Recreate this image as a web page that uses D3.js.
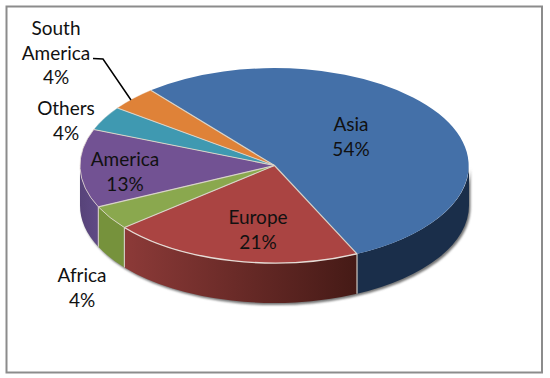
<!DOCTYPE html>
<html>
<head>
<meta charset="utf-8">
<script src="https://cdnjs.cloudflare.com/ajax/libs/d3/7.8.5/d3.min.js"></script>
<style>
  html, body { margin: 0; padding: 0; background: #fff; }
  text { font-family: Lato, "Open Sans", sans-serif; font-size: 19px; fill: #111; text-anchor: middle; }
</style>
</head>
<body>
<svg id="chart" width="550" height="378"></svg>
<script>
const regions = ["Asia", "Europe", "Africa", "America", "Others", "South America"];
const shares = [54, 21, 4, 13, 4, 4];
const topColors = ["#4470a8", "#aa4442", "#8aa84e", "#725293", "#3f99b1", "#df8238"];
const sideLeft = ["#1a2e4a", "#8c3a38", "#76923c", "#574379", "#2f7a8e", "#b0652a"];
const sideRight = ["#1a2e4a", "#451a16", "#76923c", "#5f4a85", "#2f7a8e", "#b0652a"];

const width = 550, height = 378;
const cx = 274.5, cy = 165.5, rx = 194.5, ry = 97.5, depth = 40;
const startDeg = -39.5;

// label text lines and where they sit
const labelLines = [
  {i: 0, x: 351, y: 131, lines: ["Asia", "54%"]},
  {i: 1, x: 258, y: 224, lines: ["Europe", "21%"]},
  {i: 2, x: 82, y: 282, lines: ["Africa", "4%"]},
  {i: 3, x: 125, y: 166, lines: ["America", "13%"]},
  {i: 4, x: 66, y: 115, lines: ["Others", "4%"]},
  {i: 5, x: 56, y: 35, lines: ["South", "America", "4%"]}
];

const svg = d3.select("#chart");
const defs = svg.append("defs");

const blur = defs.append("filter").attr("id", "blur")
  .attr("x", "-5%").attr("y", "-5%").attr("width", "110%").attr("height", "110%");
blur.append("feGaussianBlur").attr("stdDeviation", 1.3);

// frame
svg.append("rect")
  .attr("x", 6.5).attr("y", 6.5)
  .attr("width", 535.5).attr("height", 366)
  .attr("fill", "#fff")
  .attr("stroke", "#8c8c8c")
  .attr("stroke-width", 2);

const pie = d3.pie()
  .value(d => d)
  .sort(null)
  .startAngle(startDeg * Math.PI / 180)
  .endAngle((startDeg + 360) * Math.PI / 180);
const slices = pie(shares);

const px = a => cx + rx * Math.sin(a);
const py = a => cy - ry * Math.cos(a);

// rim of the pie between two angles, as ellipse arc
const rimPath = (a0, a1, dy) =>
  `M${px(a0)},${py(a0) + dy}A${rx},${ry} 0 ${a1 - a0 > Math.PI ? 1 : 0} 1 ${px(a1)},${py(a1) + dy}`;

const sidePath = (a0, a1) =>
  rimPath(a0, a1, 0) +
  `L${px(a1)},${py(a1) + depth}` +
  `A${rx},${ry} 0 ${a1 - a0 > Math.PI ? 1 : 0} 0 ${px(a0)},${py(a0) + depth}Z`;

const sideMin = Math.PI / 2, sideMax = Math.PI * 3 / 2;

// soft shadow under the side wall
svg.append("path")
  .attr("d", sidePath(sideMin, sideMax))
  .attr("transform", "translate(1.5,2)")
  .attr("fill", "#777")
  .attr("filter", "url(#blur)");

// side walls
const visible = slices.filter(d => d.endAngle > sideMin && d.startAngle < sideMax);
visible.forEach(d => {
  const a0 = Math.max(d.startAngle, sideMin), a1 = Math.min(d.endAngle, sideMax);
  const id = "side" + d.index;
  const g = defs.append("linearGradient").attr("id", id)
    .attr("gradientUnits", "userSpaceOnUse")
    .attr("x1", Math.min(px(a0), px(a1))).attr("x2", Math.max(px(a0), px(a1)))
    .attr("y1", 0).attr("y2", 0);
  g.append("stop").attr("offset", 0).attr("stop-color", sideLeft[d.index]);
  g.append("stop").attr("offset", 1).attr("stop-color", sideRight[d.index]);
  svg.append("path").attr("d", sidePath(a0, a1)).attr("fill", `url(#${id})`);
});

// vertical seams on the wall
slices.filter(d => d.endAngle > sideMin && d.endAngle < sideMax).forEach(d => {
  svg.append("line")
    .attr("x1", px(d.endAngle)).attr("x2", px(d.endAngle))
    .attr("y1", py(d.endAngle)).attr("y2", py(d.endAngle) + depth)
    .attr("stroke", "#cfc9c0").attr("stroke-width", 1.2);
});

// top face, unit arc squashed into the ellipse
const arc = d3.arc().innerRadius(0).outerRadius(1);
const face = svg.append("g")
  .attr("transform", `translate(${cx},${cy}) scale(${rx},${ry})`);
face.selectAll("path")
  .data(slices)
  .join("path")
  .attr("d", arc)
  .attr("fill", d => topColors[d.index]);

// light edges: spokes everywhere, rim on everything but Asia
slices.forEach(d => {
  svg.append("line")
    .attr("x1", cx).attr("y1", cy)
    .attr("x2", px(d.startAngle)).attr("y2", py(d.startAngle))
    .attr("stroke", "#d8d3c8").attr("stroke-width", 1.1);
  if (d.index > 0) {
    svg.append("path")
      .attr("d", rimPath(d.startAngle, d.endAngle, 0))
      .attr("fill", "none")
      .attr("stroke", "#e6dcd6")
      .attr("stroke-width", d.index === 1 ? 1.4 : 0.8)
      .attr("stroke-opacity", d.index < 4 ? 1 : 0.4);
  }
});

// leader for South America
const leader = d3.line();
svg.append("path")
  .attr("d", leader([[93, 58.5], [103, 59], [131, 100]]))
  .attr("fill", "none")
  .attr("stroke", "#000")
  .attr("stroke-width", 1.5);

// labels
labelLines.forEach(l => {
  const t = svg.append("text").attr("aria-label", regions[l.i] + " " + shares[l.i] + "%");
  l.lines.forEach((s, k) => {
    t.append("tspan").attr("x", l.x).attr("y", l.y + k * 24.5).text(s);
  });
});
</script>
</body>
</html>
